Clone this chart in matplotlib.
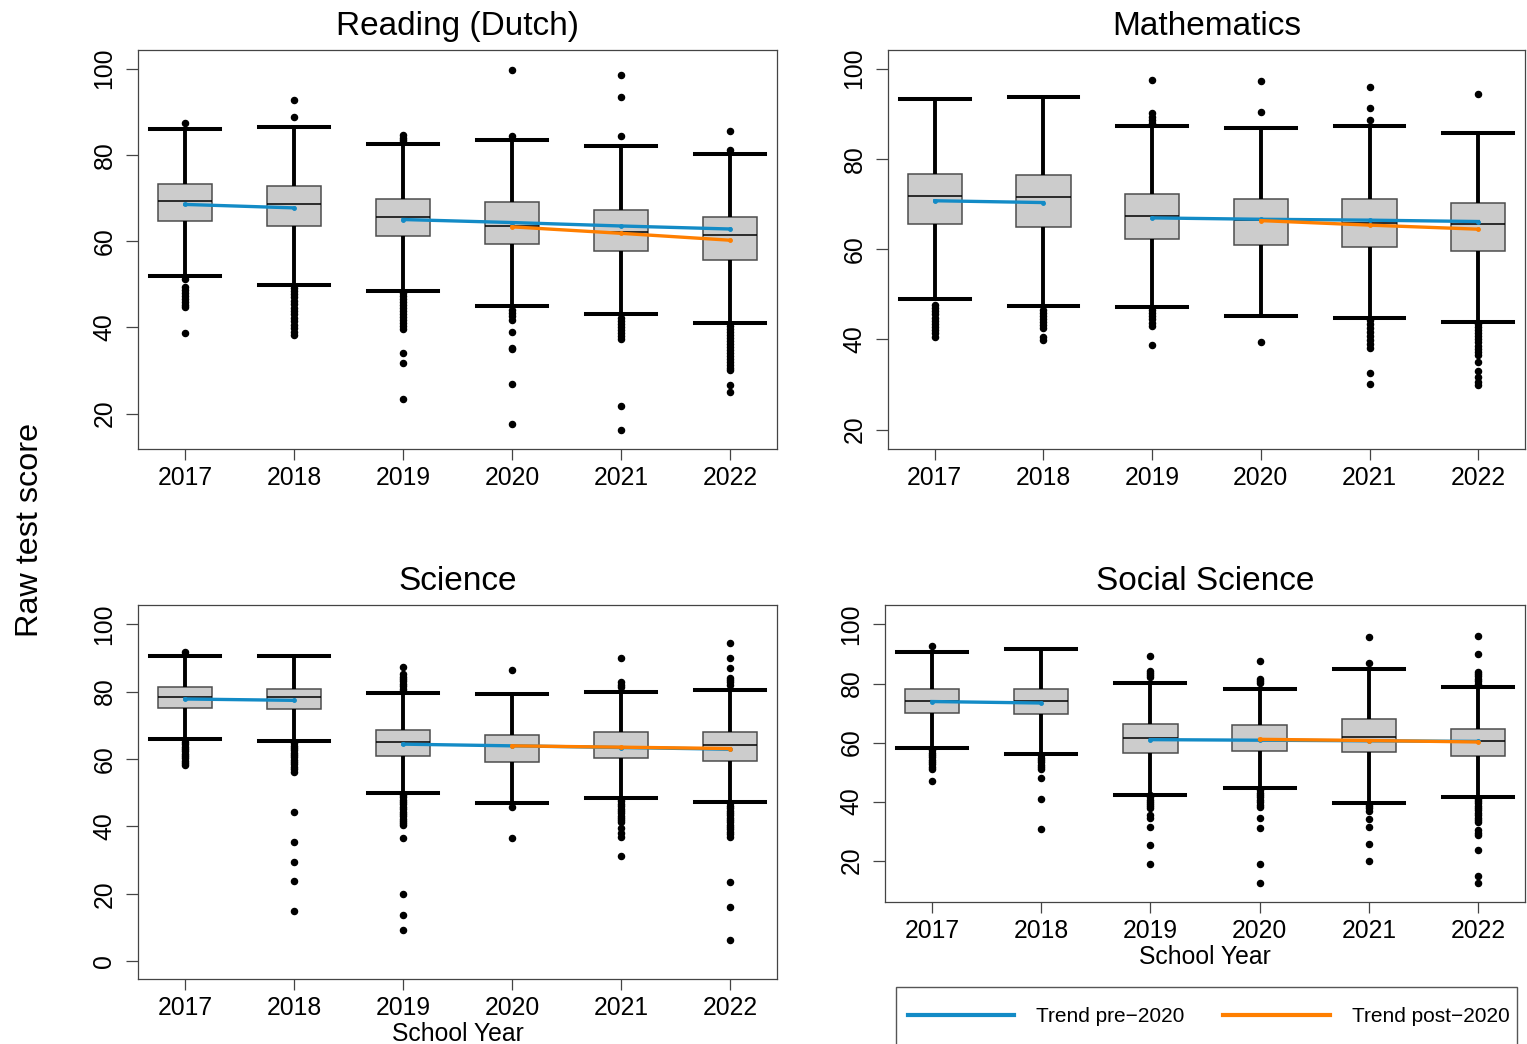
import numpy as np
import matplotlib.pyplot as plt
from matplotlib.patches import Rectangle

plt.rcParams['font.family'] = ['Liberation Sans', 'DejaVu Sans']

years = ['2017', '2018', '2019', '2020', '2021', '2022']

# Reading (Dutch)
read_q1 = [64.6, 63.6, 61.2, 59.3, 57.6, 55.6]
read_med = [69.3, 68.7, 65.6, 63.5, 62.0, 61.3]
read_q3 = [73.2, 72.7, 69.7, 69.0, 67.2, 65.5]
read_lo = [51.9, 49.9, 48.5, 44.9, 43.0, 40.9]
read_hi = [86.0, 86.5, 82.5, 83.5, 82.0, 80.3]
read_out = [
    [87.3, 51.3, 49.4, 48.7, 48.0, 47.3, 46.6, 45.9, 45.2, 44.8, 38.7],
    [88.7, 92.8, 49.2, 48.5, 47.8, 47.0, 46.2, 45.4, 44.6, 43.8, 43.0, 42.2,
     41.4, 40.6, 39.8, 39.0, 38.2],
    [84.6, 84.0, 83.4, 82.9, 48.0, 47.3, 46.6, 45.9, 45.2, 44.5, 43.8, 43.1,
     42.4, 41.7, 41.0, 40.3, 39.6, 34.1, 31.8, 23.5],
    [84.3, 99.6, 44.0, 43.3, 42.6, 41.8, 39.0, 35.3, 34.9, 26.8, 17.7],
    [84.3, 93.3, 98.4, 42.2, 41.5, 40.8, 40.1, 39.4, 38.7, 38.0, 37.4, 21.7,
     16.3],
    [81.1, 85.6, 40.4, 39.7, 39.0, 38.3, 37.6, 36.9, 36.2, 35.5, 34.8, 34.1,
     33.4, 32.7, 32.0, 31.3, 30.6, 30.0, 26.6, 25.1],
]
read_pre_early = [68.5, 67.7]
read_pre_late = [65.0, 64.3, 63.5, 62.8]
read_post = [63.3, 61.8, 60.2]

# Mathematics
math_q1 = [65.5, 64.9, 62.2, 60.8, 60.5, 59.5]
math_med = [71.8, 71.5, 67.4, 66.4, 65.7, 65.5]
math_q3 = [76.6, 76.3, 72.2, 71.1, 71.1, 70.1]
math_lo = [48.9, 47.4, 47.1, 45.1, 44.8, 43.9]
math_hi = [93.2, 93.7, 87.2, 86.9, 87.2, 85.8]
math_out = [
    [47.6, 46.9, 46.2, 45.5, 44.8, 44.1, 43.4, 42.7, 42.0, 41.3, 40.6],
    [46.6, 45.9, 45.2, 44.5, 43.8, 43.1, 42.4, 40.6, 39.9],
    [87.9, 88.6, 89.3, 90.1, 97.4, 46.5, 45.8, 45.1, 44.4, 43.7, 43.0, 38.8],
    [90.4, 97.3, 39.4],
    [88.6, 91.3, 95.9, 44.3, 43.4, 42.5, 41.6, 40.7, 39.8, 38.9, 38.0, 32.6,
     30.0],
    [94.3, 43.5, 42.8, 42.1, 41.4, 40.7, 40.0, 39.3, 38.6, 37.9, 37.2, 36.5,
     35.0, 33.0, 31.7, 30.6, 29.9],
]
math_pre_early = [70.7, 70.3]
math_pre_late = [66.9, 66.6, 66.4, 66.1]
math_post = [66.3, 65.3, 64.4]

# Science
sci_q1 = [75.1, 74.8, 60.9, 59.1, 60.2, 59.5]
sci_med = [78.5, 78.5, 65.0, 63.9, 63.7, 64.2]
sci_q3 = [81.4, 80.9, 68.6, 67.1, 67.9, 67.9]
sci_lo = [65.9, 65.3, 50.0, 47.0, 48.5, 47.1]
sci_hi = [90.5, 90.5, 79.5, 79.2, 79.9, 80.6]
sci_out = [
    [91.7, 65.1, 64.4, 63.7, 63.0, 62.3, 61.6, 60.9, 60.2, 59.5, 58.8, 58.2],
    [64.7, 64.0, 63.3, 62.6, 61.9, 61.2, 60.5, 59.8, 59.1, 58.4, 57.7, 57.0,
     56.2, 44.3, 35.4, 29.5, 23.7, 15.0],
    [80.2, 80.9, 81.6, 82.3, 83.0, 83.7, 84.4, 85.1, 87.3, 49.3, 48.6, 47.9,
     47.2, 46.5, 45.8, 45.1, 44.4, 43.7, 43.0, 42.3, 41.6, 40.9, 40.4, 36.4,
     19.9, 13.8, 9.2],
    [86.5, 45.6, 36.4],
    [90.0, 82.8, 82.1, 81.5, 48.1, 47.4, 46.7, 46.0, 45.3, 44.6, 43.9, 43.2,
     42.5, 41.8, 41.3, 39.4, 37.9, 36.9, 31.3],
    [82.0, 82.7, 83.4, 84.1, 87.1, 89.9, 94.3, 46.8, 46.1, 45.4, 44.7, 44.0,
     43.3, 42.6, 41.9, 41.2, 40.5, 39.8, 39.1, 38.4, 37.7, 36.9, 23.6, 16.1,
     6.4],
]
sci_pre_early = [77.8, 77.4]
sci_pre_late = [64.4, 63.9, 63.4, 62.9]
sci_post = [63.9, 63.5, 63.1]

# Social Science
soc_q1 = [70.1, 69.6, 56.6, 57.2, 56.7, 55.4]
soc_med = [74.2, 74.2, 61.7, 61.0, 62.0, 60.5]
soc_q3 = [78.2, 78.2, 66.3, 65.9, 67.9, 64.5]
soc_lo = [58.0, 56.3, 42.4, 44.6, 39.7, 41.4]
soc_hi = [90.7, 91.8, 80.3, 78.3, 85.0, 78.8]
soc_out = [
    [92.8, 57.4, 56.6, 55.8, 55.0, 54.2, 53.4, 52.6, 51.8, 51.0, 47.0],
    [55.7, 54.9, 54.1, 53.3, 52.5, 51.7, 50.9, 48.0, 41.0, 30.8],
    [82.3, 83.0, 83.7, 84.3, 89.3, 42.1, 41.4, 40.6, 39.9, 39.1, 38.4, 37.7,
     35.4, 34.3, 31.4, 25.2, 18.8],
    [80.1, 80.8, 81.5, 87.6, 43.8, 43.0, 42.2, 41.4, 40.6, 39.8, 39.0, 38.2,
     34.5, 31.2, 18.8, 12.5],
    [87.0, 95.6, 39.3, 38.5, 37.7, 36.9, 34.0, 31.4, 25.6, 19.8],
    [80.0, 80.8, 81.6, 82.4, 83.2, 84.0, 89.9, 96.2, 41.0, 40.2, 39.4, 38.6,
     37.8, 37.0, 36.2, 35.4, 34.6, 33.8, 33.1, 30.3, 29.5, 28.6, 23.5, 14.7,
     12.5],
]
soc_pre_early = [73.9, 73.4]
soc_pre_late = [61.0, 60.8, 60.6, 60.4]
soc_post = [61.1, 60.7, 60.2]

BLUE = '#138bc6'
ORANGE = '#ff7f00'
W, H = 1527, 1044


def rect(left, right, top, bottom):
    return [left / W, 1 - bottom / H, (right - left) / W, (bottom - top) / H]


def panel(ax, title, q1, med, q3, lo, hi, out, pre_early, pre_late, post,
          ylim, yticks, xlabel=False):
    pos = np.arange(1, len(years) + 1)
    stats = [dict(med=med[i], q1=q1[i], q3=q3[i], whislo=lo[i],
                  whishi=hi[i], fliers=out[i], label=years[i])
             for i in range(len(years))]
    ax.bxp(stats, positions=pos, widths=0.5, capwidths=0.64,
           patch_artist=True,
           boxprops=dict(facecolor='#cccccc', edgecolor='#4d4d4d',
                         linewidth=1.1),
           medianprops=dict(color='black', linewidth=1.1),
           whiskerprops=dict(color='black', linewidth=2.8,
                             solid_capstyle='butt'),
           capprops=dict(color='black', linewidth=2.9),
           flierprops=dict(marker='o', markerfacecolor='black',
                           markeredgecolor='black', markersize=4.4,
                           linestyle='none'))
    kw = dict(lw=2.4, marker='o', markersize=2.5, zorder=4)
    pre1, = ax.plot(pos[:2], pre_early, color=BLUE, **kw)
    ax.plot(pos[2:], pre_late, color=BLUE, **kw)
    post1, = ax.plot(pos[3:], post, color=ORANGE, **kw)

    ax.set_xlim(0.57, 6.43)
    ax.set_ylim(*ylim)
    ax.set_yticks(yticks)
    ax.set_xticks(pos, years)
    ax.set_title(title, fontsize=24, pad=11)
    for s in ax.spines.values():
        s.set_color('#444444')
        s.set_linewidth(0.9)
    ax.tick_params(axis='x', length=8, width=0.9, color='#444444',
                   pad=4.5, labelsize=17.8)
    ax.tick_params(axis='y', length=8.5, width=0.9, color='#444444',
                   pad=7, labelsize=17.8, labelrotation=90)
    for lab in ax.get_yticklabels():
        lab.set_va('center')
    if xlabel:
        ax.set_xlabel('School Year', fontsize=17.8, labelpad=1)
    return pre1, post1


fig = plt.figure(figsize=(W / 100, H / 100), dpi=100)

ax1 = fig.add_axes(rect(138, 777, 50, 449))
ax2 = fig.add_axes(rect(888, 1525, 50, 449))
ax3 = fig.add_axes(rect(138, 777, 605, 979))
ax4 = fig.add_axes(rect(885, 1525, 605, 902))

panel(ax1, 'Reading (Dutch)', read_q1, read_med, read_q3, read_lo, read_hi,
      read_out, read_pre_early, read_pre_late, read_post,
      (11.8, 104.3), [20, 40, 60, 80, 100])
panel(ax2, 'Mathematics', math_q1, math_med, math_q3, math_lo, math_hi,
      math_out, math_pre_early, math_pre_late, math_post,
      (15.7, 104.1), [20, 40, 60, 80, 100])
panel(ax3, 'Science', sci_q1, sci_med, sci_q3, sci_lo, sci_hi,
      sci_out, sci_pre_early, sci_pre_late, sci_post,
      (-5.3, 105.7), [0, 20, 40, 60, 80, 100], xlabel=True)
h_pre, h_post = panel(ax4, 'Social Science', soc_q1, soc_med, soc_q3,
                      soc_lo, soc_hi, soc_out, soc_pre_early, soc_pre_late,
                      soc_post, (6.0, 106.6), [20, 40, 60, 80, 100],
                      xlabel=True)

fig.text(30 / W, 1 - 530 / H, 'Raw test score', rotation=90,
         fontsize=23.3, ha='center', va='center')

# legend: frame drawn separately so the box can run off the bottom edge
fig.patches.append(Rectangle((896 / W, -0.01), (1517 - 896) / W,
                             (H - 987) / H + 0.01, transform=fig.transFigure,
                             fill=False, edgecolor='#555555', linewidth=1))
leg = fig.legend([h_pre, h_post], ['Trend pre\u22122020', 'Trend post\u22122020'],
                 loc='center left', bbox_to_anchor=(908 / W, 1 - 1017 / H),
                 ncol=2, frameon=False, fontsize=15.0, borderpad=0,
                 borderaxespad=0, handlelength=5.1, handletextpad=1.06,
                 columnspacing=1.85)
for ln in leg.get_lines():
    ln.set_marker('')
    ln.set_linewidth(3)

fig.savefig('out.png', dpi=100)
